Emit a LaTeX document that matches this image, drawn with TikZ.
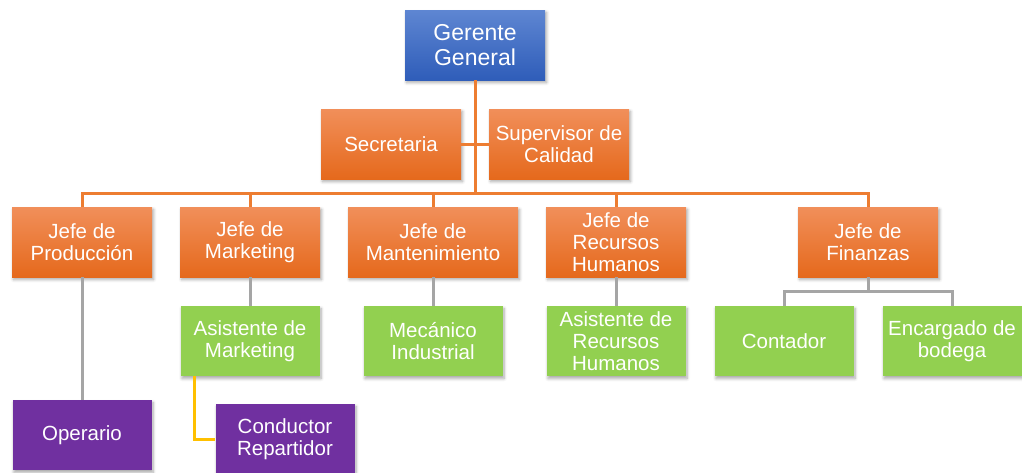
\documentclass[tikz,border=0pt]{standalone}
\usepackage{fontspec}
\setmainfont{Liberation Sans}
\usetikzlibrary{shadows.blur}
\definecolor{obtop}{HTML}{F18F5A}
\definecolor{obbot}{HTML}{E5691C}
\definecolor{bltop}{HTML}{5E86D2}
\definecolor{blbot}{HTML}{2F5DB9}
\definecolor{grn}{HTML}{92D050}
\definecolor{prp}{HTML}{7030A0}
\definecolor{orl}{HTML}{ED7D31}
\definecolor{gyl}{HTML}{A5A5A5}
\definecolor{yel}{HTML}{FFC000}
\tikzset{
  box/.style={minimum width=140pt, minimum height=70pt, inner sep=1pt, align=center,
    text=white, font=\fontsize{20.5}{22}\selectfont,
    blur shadow={shadow xshift=1.5pt, shadow yshift=-2.5pt, shadow blur steps=6, shadow blur radius=3pt, shadow opacity=35}},
  obox/.style={box, top color=obtop, bottom color=obbot},
  bbox/.style={box, top color=bltop, bottom color=blbot, font=\fontsize{23}{24.5}\selectfont},
  gbox/.style={box, fill=grn},
  pbox/.style={box, fill=prp},
  oline/.style={draw=orl, line width=3pt},
  gline/.style={draw=gyl, line width=3pt},
  yline/.style={draw=yel, line width=3pt}
}
\begin{document}
\begin{tikzpicture}[x=1pt,y=-1pt]
\useasboundingbox (0,0) rectangle (1022,472);
\coordinate (bus) at (475,193);
\coordinate (fbus) at (868,291);
\coordinate (ybend) at (194,439);
% nodes
\node[bbox] (gg) at (475,45) {Gerente\\General};
\node[obox] (sec) at (391,144) {Secretaria};
\node[obox] (sup) at (559,144) {Supervisor de\\Calidad};
\node[obox] (jp) at (82,242) {Jefe de\\Producción};
\node[obox] (jm) at (250,242) {Jefe de\\Marketing};
\node[obox, minimum width=170pt] (jmt) at (433,242) {Jefe de\\Mantenimiento};
\node[obox] (jr) at (616,242) {Jefe de\\Recursos\\Humanos};
\node[obox] (jf) at (868,242) {Jefe de\\Finanzas};
\node[gbox, minimum width=139pt] (am) at (250,341) {Asistente de\\Marketing};
\node[gbox, minimum width=139pt] (mi) at (433,341) {Mecánico\\Industrial};
\node[gbox, minimum width=139pt] (ar) at (616,341) {Asistente de\\Recursos\\Humanos};
\node[gbox, minimum width=139pt] (co) at (784,341) {Contador};
\node[gbox, minimum width=139pt] (eb) at (952,341) {Encargado de\\bodega};
\node[pbox, minimum width=139pt] (op) at (82,435) {Operario};
\node[pbox, minimum width=139pt] (cr) at (285,439) {Conductor\\Repartidor};
% connectors
\draw[oline] (gg.south) -- (bus);
\draw[oline] (sec.east) -- (sup.west);
\draw[oline] (bus) -| (jp.north);
\draw[oline] (bus) -| (jm.north);
\draw[oline] (bus) -| (jmt.north);
\draw[oline] (bus) -| (jr.north);
\draw[oline] (bus) -| (jf.north);
\draw[gline] (jp.south) -- (op.north);
\draw[gline] (jm.south) -- (am.north);
\draw[gline] (jmt.south) -- (mi.north);
\draw[gline] (jr.south) -- (ar.north);
\draw[gline] (jf.south) -- (fbus);
\draw[gline] (fbus) -| (co.north);
\draw[gline] (fbus) -| (eb.north);
\draw[yline] (am.south -| ybend) -- (ybend) -- (cr.west |- ybend);
\end{tikzpicture}
\end{document}
